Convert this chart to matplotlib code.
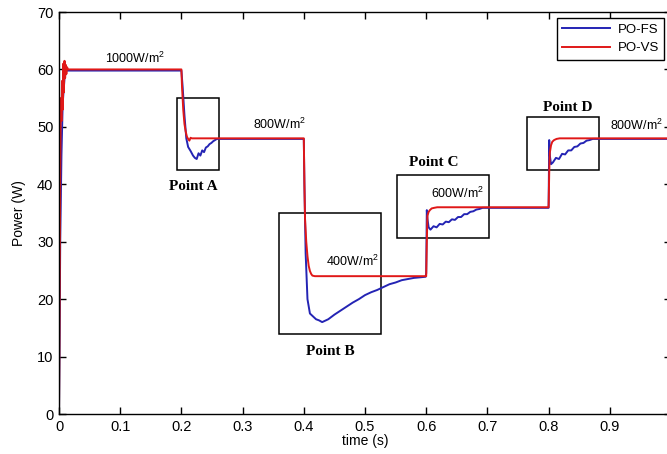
import numpy as np
import matplotlib.pyplot as plt
from matplotlib.patches import Rectangle

# PO-FS (blue) readings
t_fs = [0, 0.001, 0.002, 0.004, 0.006, 0.009, 0.012,
        0.2, 0.202, 0.205, 0.208, 0.211, 0.215, 0.219, 0.222, 0.225, 0.228, 0.231,
        0.234, 0.237, 0.240, 0.243, 0.246, 0.249, 0.252, 0.255, 0.258,
        0.4, 0.401, 0.403, 0.406, 0.41, 0.415, 0.42, 0.425, 0.43, 0.44, 0.45,
        0.46, 0.47, 0.48, 0.49, 0.5, 0.51, 0.52, 0.53, 0.54, 0.55, 0.56, 0.57,
        0.58, 0.59, 0.599,
        0.6, 0.601, 0.602, 0.604, 0.607, 0.612, 0.617, 0.622, 0.627, 0.632, 0.637,
        0.642, 0.647, 0.652, 0.657, 0.662, 0.667, 0.672, 0.677, 0.682, 0.687, 0.692,
        0.8, 0.801, 0.802, 0.804, 0.807, 0.812, 0.817, 0.822, 0.827, 0.832, 0.837,
        0.842, 0.847, 0.852, 0.857, 0.862, 0.867, 0.872, 1.0]
p_fs = [0, 14, 30, 45, 54, 58.5, 59.8,
        59.8, 57, 52, 48, 46.5, 45.8, 45, 44.6, 44.4, 45.4, 45.0,
        45.9, 45.6, 46.4, 46.6, 47.0, 47.2, 47.5, 47.7, 47.9,
        47.9, 40, 28, 20, 17.5, 17, 16.5, 16.3, 16.0, 16.5, 17.3,
        18.0, 18.7, 19.4, 20.0, 20.7, 21.2, 21.6, 22.1, 22.6, 22.9, 23.3, 23.5,
        23.7, 23.8, 23.9,
        24.5, 35.5, 34, 32.5, 32.1, 32.7, 32.5, 33.1, 33.0, 33.5, 33.4,
        33.9, 33.8, 34.3, 34.3, 34.8, 34.8, 35.2, 35.3, 35.6, 35.7, 35.9,
        35.9, 47.7, 45, 43.5, 43.8, 44.6, 44.4, 45.3, 45.2, 45.9, 45.9,
        46.5, 46.6, 47.1, 47.2, 47.6, 47.7, 47.9, 47.9]

# PO-VS (red) readings
t_vs = [0, 0.001, 0.002, 0.003, 0.004, 0.005, 0.006, 0.007, 0.008, 0.009,
        0.010, 0.011, 0.012, 0.013, 0.015,
        0.2, 0.201, 0.203, 0.205, 0.207, 0.209, 0.211, 0.213, 0.215, 0.217,
        0.4, 0.401, 0.402, 0.404, 0.406, 0.408, 0.410, 0.412, 0.414, 0.418,
        0.6, 0.601, 0.602, 0.604, 0.606, 0.609, 0.613, 0.618,
        0.8, 0.801, 0.802, 0.804, 0.806, 0.809, 0.813, 0.818, 1.0]
p_vs = [0, 18, 42, 55, 51, 58, 53, 61, 56, 61.5,
        58.5, 60.8, 59.2, 60.4, 60,
        60, 57, 53, 50.5, 49.2, 48.3, 47.9, 47.6, 48.1, 48,
        48, 40, 34, 30, 27.5, 25.8, 24.9, 24.4, 24.1, 24,
        24, 30, 34.5, 35.2, 35.5, 35.8, 35.9, 36,
        36, 42, 45.5, 46.8, 47.4, 47.7, 47.9, 48, 48]

# zoom boxes: (t0, p0, t1, p1)
boxes = [(0.193, 42.5, 0.261, 55.0),
         (0.359, 14.0, 0.526, 35.0),
         (0.552, 30.6, 0.703, 41.6),
         (0.765, 42.5, 0.882, 51.7)]
box_names = ['Point A', 'Point B', 'Point C', 'Point D']
name_pos = [(0.219, 39.7), (0.443, 10.8), (0.612, 43.8), (0.832, 53.3)]

irr_labels = ['1000W/m$^2$', '800W/m$^2$', '400W/m$^2$', '600W/m$^2$', '800W/m$^2$']
irr_pos = [(0.124, 62.0), (0.361, 50.4), (0.480, 26.5), (0.651, 38.5), (0.943, 50.2)]

plt.rcParams['font.family'] = ['Liberation Sans', 'DejaVu Sans']
plt.rcParams['mathtext.fontset'] = 'custom'
plt.rcParams['mathtext.rm'] = 'Liberation Sans'

fig = plt.figure(figsize=(6.67, 4.54), dpi=100)
ax = fig.add_axes([59 / 667, 40 / 454, 612 / 667, 402 / 454])

ax.plot(t_fs, p_fs, color='#2424b4', lw=1.4, label='PO-FS')
ax.plot(t_vs, p_vs, color='#e01818', lw=1.4, label='PO-VS')

for (x0, y0, x1, y1) in boxes:
    ax.add_patch(Rectangle((x0, y0), x1 - x0, y1 - y0, fill=False,
                           edgecolor='black', lw=1.1))
for name, (x, y) in zip(box_names, name_pos):
    ax.text(x, y, name, ha='center', va='center', fontsize=11,
            fontweight='bold', family='Liberation Serif')
for lab, (x, y) in zip(irr_labels, irr_pos):
    ax.text(x, y, lab, ha='center', va='center', fontsize=9)

ax.set_xlim(0, 1)
ax.set_ylim(0, 70)
ax.set_xticks(np.arange(0, 1.0, 0.1))
ax.set_xticklabels(['0', '0.1', '0.2', '0.3', '0.4', '0.5', '0.6', '0.7', '0.8', '0.9'])
ax.set_yticks(np.arange(0, 71, 10))
ax.tick_params(direction='in', top=True, right=True, length=5, width=1,
               labelsize=10.5, pad=4)
for s in ax.spines.values():
    s.set_linewidth(1)
ax.set_xlabel('time (s)', fontsize=10, labelpad=0)
ax.set_ylabel('Power (W)', fontsize=10, labelpad=8)

ax.legend(loc='upper right', fontsize=9.5, handlelength=3.6, handletextpad=0.6,
          fancybox=False, edgecolor='black', framealpha=1,
          bbox_to_anchor=(0.989, 0.985), borderaxespad=0.0)

fig.savefig('out.png', dpi=100)
